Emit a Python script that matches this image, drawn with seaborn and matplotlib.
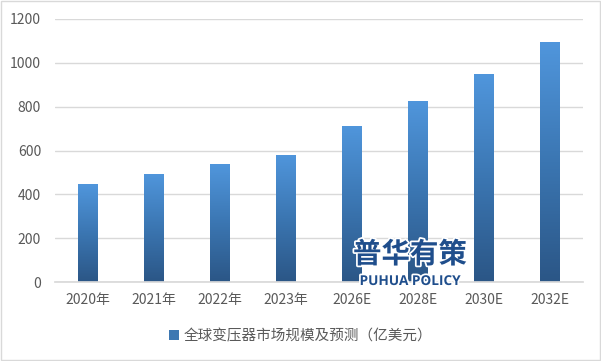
import numpy as np
import pandas as pd
import matplotlib
matplotlib.use("Agg")
import matplotlib.pyplot as plt
import matplotlib.patheffects as pe
import seaborn as sns
from matplotlib.colors import LinearSegmentedColormap
from matplotlib.patches import Patch, Rectangle

years = ["2020年", "2021年", "2022年", "2023年", "2026E", "2028E", "2030E", "2032E"]
market_size = [447, 493, 538, 580, 712, 826, 949, 1095]
series_name = "全球变压器市场规模及预测（亿美元）"
y_ticks = [0, 200, 400, 600, 800, 1000, 1200]


def main():
    sns.set_theme(style="white")
    plt.rcParams['font.family'] = ['Noto Sans CJK SC', 'DejaVu Sans']

    df = pd.DataFrame({"year": years, "value": market_size})

    fig = plt.figure(figsize=(6.01, 3.61), dpi=100)
    ax = fig.add_axes([55 / 601, 1 - 282 / 361, 528 / 601, 263 / 361])

    sns.barplot(data=df, x="year", y="value", color="#4A8AC9", width=0.3,
                saturation=1, ax=ax, zorder=2)

    # vertical gradient inside each bar, light on top, dark at the base
    cmap = LinearSegmentedColormap.from_list("bar", ["#2B5686", "#3B76B2", "#5096DC"])
    grad = np.linspace(0, 1, 256).reshape(-1, 1)
    for bar in ax.patches:
        x0, y0 = bar.get_x(), bar.get_y()
        w, h = bar.get_width(), bar.get_height()
        bar.set_facecolor("none")
        bar.set_edgecolor("none")
        im = ax.imshow(grad, cmap=cmap, origin="lower", aspect="auto",
                       extent=(x0, x0 + w, y0, y0 + h), zorder=2)
        im.set_clip_path(bar)

    ax.set_xlim(-0.5, len(years) - 0.5)
    ax.set_ylim(0, 1200)
    ax.set_yticks(y_ticks)
    ax.set_xlabel("")
    ax.set_ylabel("")
    ax.yaxis.grid(True, color="#D9D9D9", linewidth=1, zorder=0)
    ax.set_axisbelow(True)
    sns.despine(ax=ax, left=True, top=True, right=True)
    ax.spines["bottom"].set_color("#D9D9D9")
    ax.tick_params(axis="both", length=0, labelsize=10, colors="#595959")
    ax.tick_params(axis="x", pad=8)
    ax.tick_params(axis="y", pad=10)

    # watermark
    halo = [pe.withStroke(linewidth=2.5, foreground="white")]
    fig.text(410 / 601, 1 - 255 / 361, "普华有策", ha="center", va="center",
             fontsize=20.5, fontweight="black", color="#1F4E8C", path_effects=halo)
    fig.text(410 / 601, 1 - 281 / 361, "PUHUA POLICY", ha="center", va="center",
             fontsize=9.8, fontweight="bold", color="#1F4E8C", family="Open Sans",
             path_effects=halo)

    handle = Patch(facecolor="#3E78B2", edgecolor="none")
    fig.legend([handle], [series_name], loc="center", bbox_to_anchor=(0.5, 1 - 336 / 361),
               frameon=False, fontsize=10.5, labelcolor="#595959",
               handlelength=0.7, handleheight=0.7, handletextpad=0.3)

    fig.patches.append(Rectangle((0.001, 0.002), 0.997, 0.996, transform=fig.transFigure,
                                 fill=False, edgecolor="#D9D9D9", linewidth=1))

    fig.savefig("out.png", dpi=100)


if __name__ == "__main__":
    main()
